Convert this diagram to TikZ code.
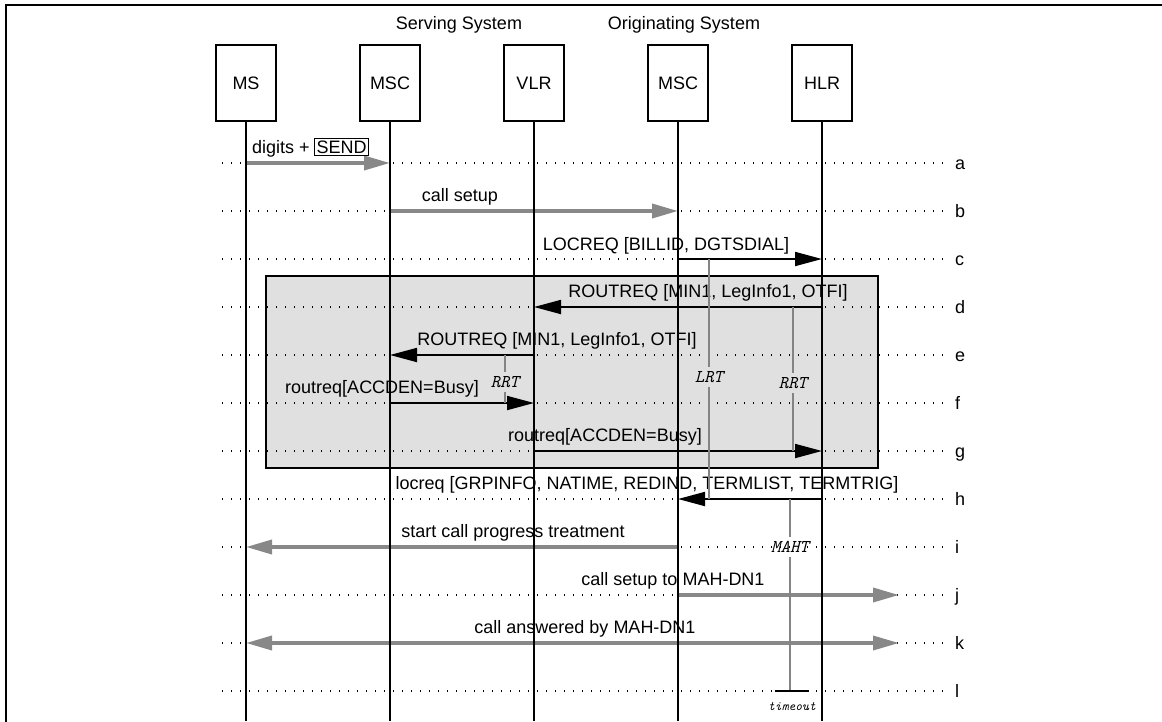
\documentclass[tikz,border=0pt]{standalone}
\usepackage{fontspec}
\setmainfont{Liberation Sans}
\usetikzlibrary{arrows.meta}
\definecolor{boxgray}{HTML}{E0E0E0}
\definecolor{arrgray}{HTML}{888888}
\definecolor{timergray}{HTML}{848484}
\begin{document}
\begin{tikzpicture}[x=1pt,y=-1pt,
  lbl/.style={font=\fontsize{18}{21}\selectfont, inner sep=0pt},
  head/.style={draw, line width=1.3pt, minimum width=60pt, minimum height=76pt, inner sep=0pt, font=\fontsize{18}{21}\selectfont},
  life/.style={line width=1.6pt},
  dotline/.style={line width=1.3pt, dash pattern=on 1.3pt off 7.7pt},
  garrow/.style={draw=arrgray, line width=3.6pt, -{Triangle[length=26pt,width=14pt,fill=arrgray]}},
  gdarrow/.style={draw=arrgray, line width=3.6pt, {Triangle[length=26pt,width=14pt,fill=arrgray]}-{Triangle[length=26pt,width=14pt,fill=arrgray]}},
  barrow/.style={draw=black, line width=1.8pt, -{Triangle[length=27pt,width=14pt]}},
  timer/.style={draw=timergray, line width=2pt},
  tlbl/.style={font=\fontsize{18}{20}\selectfont\ttfamily\itshape, inner sep=4pt},
  rowlbl/.style={font=\fontsize{18}{21}\selectfont, inner sep=0pt}
]
\useasboundingbox (0,0) rectangle (1162,721);
\draw[line width=2.4pt] (6,725) -- (6,5) -- (1166,5);

% gray box
\filldraw[fill=boxgray, draw=black, line width=2pt] (266,276) rectangle (878,468);

% rows and dotted lines
\foreach \n/\y in {a/163,b/211,c/259,d/307,e/355,f/403,g/451,h/499,i/547,j/595,k/643,l/691} {
  \coordinate (r\n) at (0,\y);
  \draw[dotline] (222,\y) -- (944,\y);
  \node[rowlbl, anchor=base west] (lab\n) at (955,\y+6) {\n};
}

% headers
\node[lbl] (serv) at (459,25) {Serving System};
\node[lbl] (orig) at (684,25) {Originating System};
\node[head] (ms) at (246,83) {MS};
\node[head] (mscs) at (390,83) {MSC};
\node[head] (vlr) at (534,83) {VLR};
\node[head] (msco) at (678,83) {MSC};
\node[head] (hlr) at (822,83) {HLR};
\coordinate (bot) at (0,721);
\coordinate (ext) at (899,0);

% messages
\draw[garrow] (ms |- ra) -- (mscs |- ra);
\node[lbl, anchor=base west] (la) at (252,153) {digits +};
\node[lbl, draw, line width=1.3pt, inner sep=2pt, anchor=base west] (send) at ([xshift=4pt]la.base east) {SEND};

\draw[garrow] (mscs |- rb) -- (msco |- rb);
\node[lbl, anchor=base] (lb) at (460,201) {call setup};

\draw[barrow] (msco |- rc) -- (hlr |- rc);
\node[lbl, anchor=base] (lc) at (666,250) {LOCREQ [BILLID, DGTSDIAL]};

\draw[barrow] (hlr |- rd) -- (vlr |- rd);
\node[lbl, anchor=base] (ld) at (708,297) {ROUTREQ [MIN1, LegInfo1, OTFI]};

\draw[barrow] (vlr |- re) -- (mscs |- re);
\node[lbl, anchor=base] (le) at (557,345) {ROUTREQ [MIN1, LegInfo1, OTFI]};

\draw[barrow] (mscs |- rf) -- (vlr |- rf);
\node[lbl, anchor=base] (lf) at (382,393) {routreq[ACCDEN=Busy]};

\draw[barrow] (vlr |- rg) -- (hlr |- rg);
\node[lbl, anchor=base] (lg) at (605,441) {routreq[ACCDEN=Busy]};

\draw[barrow] (hlr |- rh) -- (msco |- rh);
\node[lbl, anchor=base] (lh) at (647,489) {locreq [GRPINFO, NATIME, REDIND, TERMLIST, TERMTRIG]};

\draw[garrow] (msco |- ri) -- (ms |- ri);
\node[lbl, anchor=base] (li) at (513,537) {start call progress treatment};

\draw[garrow] (msco |- rj) -- (ext |- rj);
\node[lbl, anchor=base] (lj) at (673,585) {call setup to MAH-DN1};

\draw[gdarrow] (ms |- rk) -- (ext |- rk);
\node[lbl, anchor=base] (lk) at (585,633) {call answered by MAH-DN1};

% lifelines
\draw[life] (ms.south) -- (ms |- bot);
\draw[life] (mscs.south) -- (mscs |- bot);
\draw[life] (vlr.south) -- (vlr |- bot);
\draw[life] (msco.south) -- (msco |- bot);
\draw[life] (hlr.south) -- (hlr |- bot);

% timers
\node[tlbl] (rrt1) at (505,382) {RRT};
\draw[timer] (rrt1 |- re) -- (rrt1.north);
\draw[timer] (rrt1.south) -- (rrt1 |- rf);

\node[tlbl] (lrt) at (709,377) {LRT};
\draw[timer] (lrt |- rc) -- (lrt.north);
\draw[timer] (lrt.south) -- (lrt |- rh);

\node[tlbl] (rrt2) at (793,383) {RRT};
\draw[timer] (rrt2 |- rd) -- (rrt2.north);
\draw[timer] (rrt2.south) -- (rrt2 |- rg);

\node[tlbl] (maht) at (790,547) {MAHT};
\draw[timer] (maht |- rh) -- (maht.north);
\draw[timer] (maht.south) -- (maht |- rl);
\coordinate (tend) at (maht |- rl);
\draw[line width=2pt] ([xshift=-15pt]tend) -- ([xshift=19pt]tend);
\node[font=\fontsize{13}{14}\selectfont\ttfamily\itshape, inner sep=0pt] (tout) at (792,707) {timeout};
\end{tikzpicture}
\end{document}
